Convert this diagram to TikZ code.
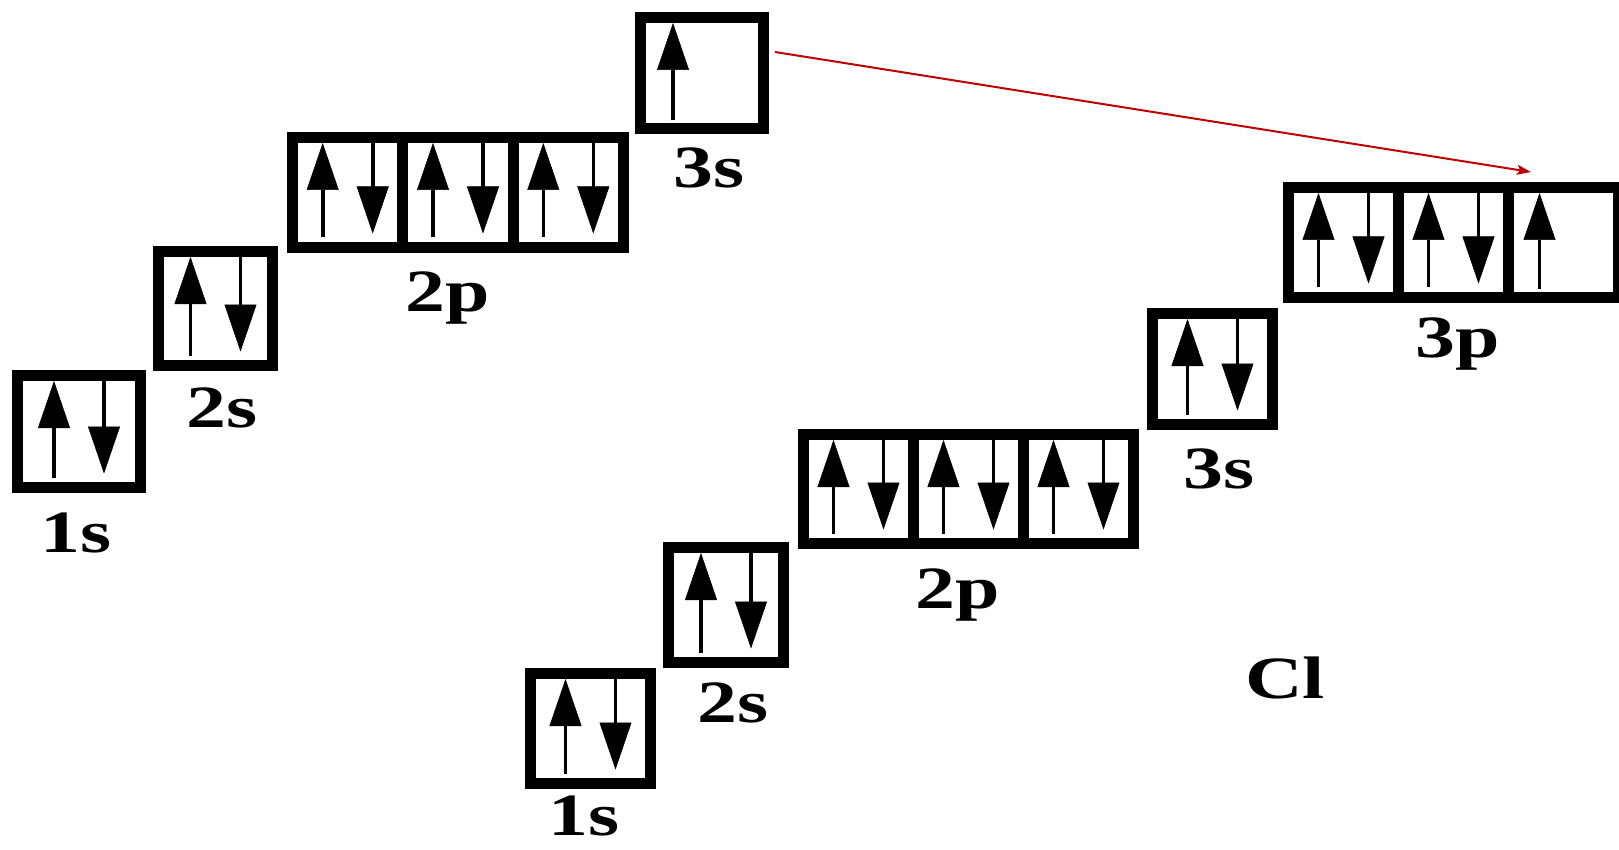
\documentclass[tikz,border=0pt]{standalone}
\usepackage{fontspec}
\newfontfamily\lblfont{Liberation Serif}[FakeStretch=1.33]
\usetikzlibrary{arrows.meta}
\definecolor{arrowred}{HTML}{C00000}
\tikzset{
  cell/.style 2 args={draw=black, line width=11pt, inner sep=0pt, outer sep=0pt,
    minimum width=#1, minimum height=#2},
  electron/.style={line width=3.6pt, draw=black,
    -{Triangle[length=47pt,width=32pt,line width=0.5pt]}},
  lbl/.style={font=\lblfont\bfseries\fontsize{60}{60}\selectfont, inner sep=0pt, anchor=base},
  redarrow/.style={draw=arrowred, line width=2pt,
    -{Stealth[length=14pt,width=10pt,inset=3pt]}}
}
\newcommand\elecpair[1]{%
  \draw[electron] ([xshift=-25pt,yshift=10pt]#1.south) -- ([xshift=-25pt,yshift=-5.5pt]#1.north);
  \draw[electron] ([xshift=25pt,yshift=-5.5pt]#1.north) -- ([xshift=25pt,yshift=14pt]#1.south);
}
\newcommand\elecup[2]{%
  \draw[electron] ([xshift=#2,yshift=8pt]#1.south) -- ([xshift=#2,yshift=-5.5pt]#1.north);
}
\begin{document}
\begin{tikzpicture}[x=1pt,y=-1pt]
\useasboundingbox (0,0) rectangle (1619,850);
% ---------- left configuration ----------
\node[cell={123pt}{112pt}] (L1s) at (79,431.5) {};
\node[cell={114pt}{114pt}] (L2s) at (215.5,308.5) {};
\node[cell={110.3pt}{110pt}] (L2pa) at (347.7,192.5) {};
\node[cell={110.3pt}{110pt}] (L2pb) at (458,192.5) {};
\node[cell={110.3pt}{110pt}] (L2pc) at (568.3,192.5) {};
\node[cell={123pt}{111pt}] (L3s) at (702,73) {};
\elecpair{L1s}
\elecpair{L2s}
\elecpair{L2pa}
\elecpair{L2pb}
\elecpair{L2pc}
\elecup{L3s}{-29pt}
\node[lbl] (tL1s) at (76,552) {1s};
\node[lbl] (tL2s) at (222,427) {2s};
\node[lbl] (tL2p) at (448,311) {2p};
\node[lbl] (tL3s) at (709,188) {3s};
% ---------- right configuration (Cl) ----------
\node[cell={120pt}{110pt}] (R1s) at (590.5,728.5) {};
\node[cell={115pt}{115pt}] (R2s) at (726,605) {};
\node[cell={110pt}{109pt}] (R2pa) at (858.5,489) {};
\node[cell={110pt}{109pt}] (R2pb) at (968.5,489) {};
\node[cell={110pt}{109pt}] (R2pc) at (1078.5,489) {};
\node[cell={120pt}{111pt}] (R3s) at (1212.5,369) {};
\node[cell={110pt}{110pt}] (R3pa) at (1343.5,242.5) {};
\node[cell={110pt}{110pt}] (R3pb) at (1453.5,242.5) {};
\node[cell={110pt}{110pt}] (R3pc) at (1563.5,242.5) {};
\elecpair{R1s}
\elecpair{R2s}
\elecpair{R2pa}
\elecpair{R2pb}
\elecpair{R2pc}
\elecpair{R3s}
\elecpair{R3pa}
\elecpair{R3pb}
\elecup{R3pc}{-24pt}
\node[lbl] (tR1s) at (584,835) {1s};
\node[lbl] (tR2s) at (733,722) {2s};
\node[lbl] (tR2p) at (958,608) {2p};
\node[lbl] (tR3s) at (1219,488) {3s};
\node[lbl] (tR3p) at (1458,357) {3p};
\node[lbl] (tCl) at (1285,698) {Cl};
% ---------- transfer arrow ----------
\draw[redarrow] ([xshift=11.5pt,yshift=21pt]L3s.east) -- ([xshift=-32.5pt,yshift=15.5pt]R3pc.north);
\end{tikzpicture}
\end{document}
